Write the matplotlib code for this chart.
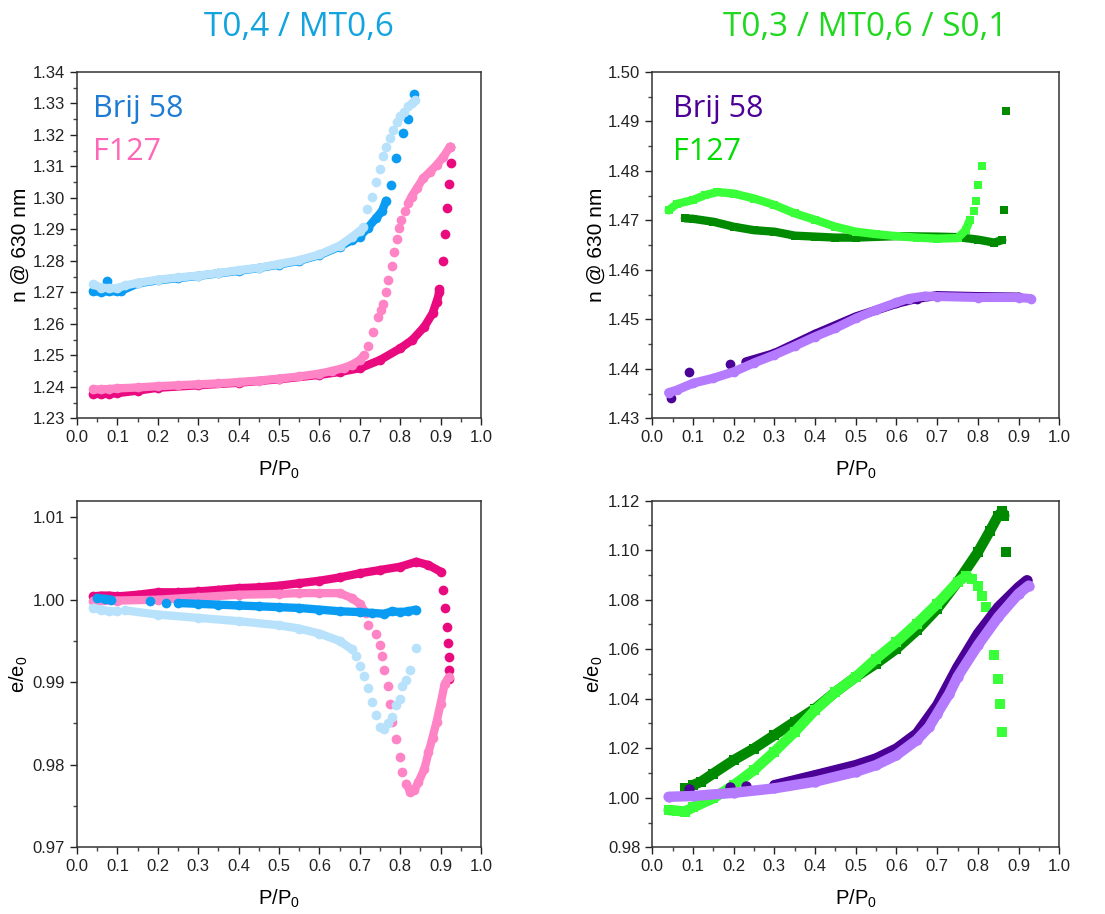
import numpy as np
import matplotlib
matplotlib.use("Agg")
import matplotlib.pyplot as plt
from matplotlib.ticker import MultipleLocator, FormatStrFormatter

nan = np.nan

# ---------------- n @ 630 nm, T0,4 / MT0,6 ----------------
n1_b58_dk_x = [0.04, 0.06, 0.08, 0.10, 0.11, 0.15, 0.2, 0.25, 0.3, 0.35, 0.4, 0.45, 0.5, 0.55, 0.6, 0.65, 0.68, 0.70, 0.72, 0.74, 0.755, 0.765]
n1_b58_dk_y = [1.2703, 1.2702, 1.2703, 1.2703, 1.2705, 1.2728, 1.2738, 1.2745, 1.2752, 1.2760, 1.2768, 1.2777, 1.2788, 1.2800, 1.2818, 1.2845, 1.2865, 1.2877, 1.2905, 1.2935, 1.2958, 1.2991]
n1_b58_dk_px = [0.075, 0.776, 0.789, 0.806, 0.820, 0.833]
n1_b58_dk_py = [1.2735, 1.3041, 1.3125, 1.3207, 1.3250, 1.3329]

n1_b58_lt_x = [0.04, 0.06, 0.08, 0.10, 0.12, 0.15, 0.2, 0.25, 0.3, 0.35, 0.4, 0.45, 0.5, 0.55, 0.6, 0.65, 0.68, 0.70]
n1_b58_lt_y = [1.2725, 1.2715, 1.2713, 1.2713, 1.2722, 1.2730, 1.2740, 1.2747, 1.2753, 1.2761, 1.2770, 1.2778, 1.2790, 1.2802, 1.2820, 1.2848, 1.2875, 1.2895]
n1_b58_lt_px = [0.707, 0.719, 0.731, 0.740, 0.750, 0.758, 0.766, 0.775, 0.783, 0.791, 0.800, 0.810, 0.820, 0.828, 0.836]
n1_b58_lt_py = [1.2908, 1.2963, 1.3004, 1.3050, 1.3090, 1.3133, 1.3162, 1.3189, 1.3215, 1.3239, 1.3258, 1.3273, 1.3290, 1.3300, 1.3310]

n1_f127_dk_x = [0.04, 0.06, 0.08, 0.10, 0.15, 0.2, 0.3, 0.4, 0.5, 0.6, 0.65, 0.7, 0.75, 0.8, 0.83, 0.86, 0.88, 0.89, 0.897]
n1_f127_dk_y = [1.2378, 1.2377, 1.2378, 1.2380, 1.2388, 1.2397, 1.2405, 1.2413, 1.2424, 1.2438, 1.2447, 1.2459, 1.2485, 1.2522, 1.2549, 1.2591, 1.2633, 1.2670, 1.2700]
n1_f127_dk_px = [0.897, 0.905, 0.912, 0.915, 0.921, 0.925, 0.923]
n1_f127_dk_py = [1.2710, 1.2798, 1.2886, 1.2969, 1.3043, 1.3110, 1.3162]

n1_f127_lt_x = [0.04, 0.06, 0.08, 0.10, 0.15, 0.2, 0.25, 0.3, 0.35, 0.4, 0.45, 0.5, 0.55, 0.6, 0.63, 0.66, 0.68, 0.70, 0.71,
                nan, 0.82, 0.828, 0.841, 0.857, 0.874, 0.89, 0.907, 0.923]
n1_f127_lt_y = [1.2392, 1.2392, 1.2393, 1.2395, 1.2398, 1.2402, 1.2405, 1.2408, 1.2411, 1.2415, 1.2420, 1.2426, 1.2433, 1.2442, 1.2450, 1.2460, 1.2470, 1.2485, 1.2500,
                nan, 1.2982, 1.3004, 1.3030, 1.3062, 1.3083, 1.3104, 1.3130, 1.3162]
n1_f127_lt_px = [0.721, 0.733, 0.746, 0.752, 0.758, 0.764, 0.770, 0.779, 0.784, 0.791, 0.798, 0.803, 0.812]
n1_f127_lt_py = [1.2528, 1.2575, 1.2623, 1.2645, 1.2663, 1.2702, 1.2739, 1.2784, 1.2829, 1.2868, 1.2903, 1.2930, 1.2958]

# ---------------- n @ 630 nm, T0,3 / MT0,6 / S0,1 ----------------
n2_b58_dk_x = [0.23, 0.3, 0.4, 0.5, 0.6, 0.65, 0.7, 0.8, 0.9]
n2_b58_dk_y = [1.4414, 1.4431, 1.4470, 1.4505, 1.4532, 1.4542, 1.4548, 1.4546, 1.4545]
n2_b58_dk_px = [0.045, 0.09, 0.19]
n2_b58_dk_py = [1.4342, 1.4394, 1.4409]

n2_b58_lt_x = [0.04, 0.06, 0.1, 0.15, 0.2, 0.25, 0.3, 0.35, 0.4, 0.45, 0.5, 0.55, 0.6, 0.63, 0.67, 0.7, 0.8, 0.9, 0.93]
n2_b58_lt_y = [1.4352, 1.4357, 1.4371, 1.4381, 1.4394, 1.4412, 1.4428, 1.4446, 1.4465, 1.4482, 1.4502, 1.4519, 1.4534, 1.4542, 1.4547, 1.4546, 1.4544, 1.4544, 1.4542]
n2_b58_lt_px = []
n2_b58_lt_py = []

n2_f127_dk_x = [0.08, 0.1, 0.15, 0.2, 0.25, 0.3, 0.35, 0.4, 0.45, 0.5, 0.6, 0.7, 0.75, 0.8, 0.84, 0.86]
n2_f127_dk_y = [1.4704, 1.4703, 1.4697, 1.4687, 1.4680, 1.4677, 1.4669, 1.4667, 1.4665, 1.4665, 1.4668, 1.4667, 1.4666, 1.4661, 1.4655, 1.4660]
n2_f127_dk_px = [0.865, 0.87]
n2_f127_dk_py = [1.4721, 1.4921]

n2_f127_lt_x = [0.04, 0.06, 0.1, 0.13, 0.16, 0.2, 0.25, 0.3, 0.35, 0.4, 0.45, 0.5, 0.55, 0.6, 0.65, 0.7, 0.75, 0.77, 0.78]
n2_f127_lt_y = [1.4720, 1.4733, 1.4741, 1.4751, 1.4757, 1.4754, 1.4744, 1.4731, 1.4714, 1.4701, 1.4687, 1.4677, 1.4672, 1.4668, 1.4665, 1.4663, 1.4664, 1.4680, 1.4700]
n2_f127_lt_px = [0.79, 0.795, 0.80, 0.81]
n2_f127_lt_py = [1.4719, 1.4739, 1.4771, 1.4810]

# ---------------- e/e0, T0,4 / MT0,6 ----------------
e1_f127_dk_x = [0.04, 0.06, 0.08, 0.1, 0.15, 0.2, 0.25, 0.3, 0.35, 0.4, 0.45, 0.5, 0.55, 0.6, 0.65, 0.7, 0.75, 0.8, 0.84, 0.87, 0.9]
e1_f127_dk_y = [1.0004, 1.0005, 1.0005, 1.0004, 1.0006, 1.0009, 1.0009, 1.0010, 1.0012, 1.0014, 1.0015, 1.0017, 1.0020, 1.0023, 1.0027, 1.0032, 1.0036, 1.0040, 1.0046, 1.0042, 1.0034]
e1_f127_dk_px = [0.905, 0.91, 0.915, 0.918, 0.92, 0.922, 0.922]
e1_f127_dk_py = [1.0012, 0.9990, 0.9967, 0.9948, 0.9931, 0.9915, 0.9904]

e1_f127_lt_x = [0.04, 0.1, 0.2, 0.3, 0.4, 0.5, 0.55, 0.6, 0.65, 0.68, 0.70, 0.715,
                nan, 0.815, 0.825, 0.835, 0.845, 0.86, 0.87, 0.88, 0.89, 0.9, 0.91, 0.92]
e1_f127_lt_y = [0.9998, 0.9999, 1.0000, 1.0003, 1.0006, 1.0007, 1.0008, 1.0008, 1.0008, 1.0002, 0.9995, 0.9984,
                nan, 0.9777, 0.9767, 0.9769, 0.9779, 0.9795, 0.9815, 0.9833, 0.9852, 0.9874, 0.9898, 0.9906]
e1_f127_lt_px = [0.72, 0.74, 0.75, 0.755, 0.76, 0.77, 0.775, 0.78, 0.79, 0.80, 0.805]
e1_f127_lt_py = [0.9969, 0.9958, 0.9945, 0.9932, 0.9915, 0.9895, 0.9874, 0.9852, 0.9831, 0.9809, 0.9791]

e1_b58_dk_x = [0.05, 0.07, 0.085, nan, 0.25, 0.3, 0.35, 0.4, 0.45, 0.5, 0.55, 0.6, 0.65, 0.7, 0.73, 0.76, 0.78, 0.8, 0.82, 0.838]
e1_b58_dk_y = [1.0002, 1.0001, 1.0000, nan, 0.9996, 0.9995, 0.9994, 0.9993, 0.9992, 0.9991, 0.9990, 0.9988, 0.9986, 0.9985, 0.9984, 0.9983, 0.9986, 0.9985, 0.9986, 0.9988]
e1_b58_dk_px = [0.18, 0.22]
e1_b58_dk_py = [0.9998, 0.9996]

e1_b58_lt_x = [0.04, 0.06, 0.08, 0.1, nan, 0.12, 0.2, 0.3, 0.4, 0.5, 0.55, 0.6, 0.65, 0.68]
e1_b58_lt_y = [0.9990, 0.9988, 0.9986, 0.9986, nan, 0.9987, 0.9982, 0.9978, 0.9974, 0.9969, 0.9965, 0.9959, 0.9950, 0.9940]
e1_b58_lt_px = [0.69, 0.70, 0.71, 0.72, 0.73, 0.74, 0.75, 0.76, 0.77, 0.78, 0.79, 0.80, 0.805, 0.815, 0.825, 0.838]
e1_b58_lt_py = [0.9932, 0.9920, 0.9908, 0.9893, 0.9876, 0.9860, 0.9846, 0.9843, 0.9850, 0.9858, 0.9872, 0.9880, 0.9895, 0.9903, 0.9915, 0.9942]

# ---------------- e/e0, T0,3 / MT0,6 / S0,1 ----------------
e2_f127_dk_x = [0.1, 0.12, 0.15, 0.2, 0.25, 0.3, 0.35, 0.4, 0.45, 0.5, 0.55, 0.6, 0.65, 0.7, 0.75, 0.8, 0.83, 0.85, 0.86, 0.865]
e2_f127_dk_y = [1.0051, 1.0065, 1.0098, 1.0152, 1.0199, 1.0253, 1.0307, 1.0360, 1.0427, 1.0488, 1.0542, 1.0602, 1.0676, 1.0763, 1.0871, 1.0992, 1.1079, 1.1140, 1.1157, 1.1140]
e2_f127_dk_px = [0.08, 0.87]
e2_f127_dk_py = [1.0038, 1.0994]

e2_f127_lt_x = [0.04, 0.06, 0.08, 0.1, 0.15, 0.2, 0.25, 0.3, 0.35, 0.4, 0.45, 0.5, 0.55, 0.6, 0.65, 0.7, 0.75, 0.77, 0.785]
e2_f127_lt_y = [0.9950, 0.9948, 0.9944, 0.9961, 0.9998, 1.0051, 1.0112, 1.0186, 1.0266, 1.0354, 1.0427, 1.0488, 1.0562, 1.0629, 1.0703, 1.0783, 1.0871, 1.0894, 1.0884]
e2_f127_lt_px = [0.80, 0.81, 0.82, 0.835, 0.84, 0.85, 0.855, 0.86]
e2_f127_lt_py = [1.0857, 1.0813, 1.0770, 1.0716, 1.0575, 1.0479, 1.0380, 1.0266]

e2_b58_dk_x = [0.3, 0.4, 0.5, 0.55, 0.6, 0.65, 0.7, 0.75, 0.8, 0.85, 0.9, 0.92]
e2_b58_dk_y = [1.0051, 1.0091, 1.0132, 1.0159, 1.0199, 1.0260, 1.0374, 1.0528, 1.0663, 1.0770, 1.0851, 1.0878]
e2_b58_dk_px = [0.09, 0.19, 0.23]
e2_b58_dk_py = [1.0034, 1.0045, 1.0047]

e2_b58_lt_x = [0.04, 0.1, 0.2, 0.3, 0.4, 0.5, 0.55, 0.6, 0.65, 0.68, 0.7, 0.73, 0.75, 0.8, 0.85, 0.9, 0.925]
e2_b58_lt_y = [1.0004, 1.0007, 1.0020, 1.0038, 1.0065, 1.0105, 1.0132, 1.0172, 1.0233, 1.0286, 1.0340, 1.0421, 1.0488, 1.0616, 1.0730, 1.0824, 1.0857]
e2_b58_lt_px = []
e2_b58_lt_py = []

titles = ["T0,4 / MT0,6", "T0,3 / MT0,6 / S0,1"]
title_colors = ["#13A3DF", "#1FD81F"]

# colours
blue_dk, blue_lt = "#0A9CF2", "#B8E2FB"
pink_dk, pink_lt = "#EA0A80", "#FF84C6"
purp_dk, purp_lt = "#4B0096", "#B57BFF"
green_dk, green_lt = "#008A00", "#38FF38"

plt.rcParams["font.family"] = ["Liberation Sans", "DejaVu Sans"]
plt.rcParams["mathtext.default"] = "regular"


def draw(ax, x, y, px, py, color, marker, lw, ms):
    # dense part as a thick band, sparse part as single markers
    ax.plot(x, y, "-", color=color, lw=lw, marker=marker, ms=ms,
            solid_capstyle="round", solid_joinstyle="round", mew=0)
    if len(px):
        ax.plot(px, py, ls="none", color=color, marker=marker, ms=ms, mew=0)


def style(ax, ylim, ymaj, ymin, ylabel, ysize):
    ax.set_xlim(0, 1.0)
    ax.set_ylim(*ylim)
    ax.xaxis.set_major_locator(MultipleLocator(0.1))
    ax.xaxis.set_minor_locator(MultipleLocator(0.05))
    ax.xaxis.set_major_formatter(FormatStrFormatter("%.1f"))
    ax.yaxis.set_major_locator(MultipleLocator(ymaj))
    ax.yaxis.set_minor_locator(MultipleLocator(ymin))
    ax.yaxis.set_major_formatter(FormatStrFormatter("%.2f"))
    ax.tick_params(which="major", direction="out", length=5, width=1, labelsize=12, colors="#222222")
    ax.tick_params(which="minor", direction="out", length=3, width=1, colors="#444444")
    ax.tick_params(top=False, right=False)
    for s in ax.spines.values():
        s.set_linewidth(1.1)
        s.set_color("#333333")
    ax.set_xlabel("P/P$_0$", fontsize=14.5, labelpad=10)
    ax.set_ylabel(ylabel, fontsize=ysize, labelpad=2)


fig = plt.figure(figsize=(11.05, 9.14), dpi=100)
ax1 = fig.add_axes([0.0697, 0.5423, 0.3656, 0.3792])
ax2 = fig.add_axes([0.5903, 0.5423, 0.3683, 0.3792])
ax3 = fig.add_axes([0.0697, 0.0730, 0.3656, 0.3792])
ax4 = fig.add_axes([0.5903, 0.0730, 0.3683, 0.3792])

# top left
draw(ax1, n1_b58_dk_x, n1_b58_dk_y, n1_b58_dk_px, n1_b58_dk_py, blue_dk, "o", 6, 7)
draw(ax1, n1_b58_lt_x, n1_b58_lt_y, n1_b58_lt_px, n1_b58_lt_py, blue_lt, "o", 6, 7)
draw(ax1, n1_f127_dk_x, n1_f127_dk_y, n1_f127_dk_px, n1_f127_dk_py, pink_dk, "o", 6, 7)
draw(ax1, n1_f127_lt_x, n1_f127_lt_y, n1_f127_lt_px, n1_f127_lt_py, pink_lt, "o", 6, 7)
style(ax1, (1.23, 1.34), 0.01, 0.005, "n @ 630 nm", 15)

# top right
draw(ax2, n2_b58_dk_x, n2_b58_dk_y, n2_b58_dk_px, n2_b58_dk_py, purp_dk, "o", 6.5, 7)
draw(ax2, n2_b58_lt_x, n2_b58_lt_y, n2_b58_lt_px, n2_b58_lt_py, purp_lt, "o", 6.5, 7)
draw(ax2, n2_f127_dk_x, n2_f127_dk_y, n2_f127_dk_px, n2_f127_dk_py, green_dk, "s", 6, 6)
draw(ax2, n2_f127_lt_x, n2_f127_lt_y, n2_f127_lt_px, n2_f127_lt_py, green_lt, "s", 6, 6)
style(ax2, (1.43, 1.50), 0.01, 0.005, "n @ 630 nm", 15)

# bottom left
draw(ax3, e1_f127_dk_x, e1_f127_dk_y, e1_f127_dk_px, e1_f127_dk_py, pink_dk, "o", 6, 7)
draw(ax3, e1_f127_lt_x, e1_f127_lt_y, e1_f127_lt_px, e1_f127_lt_py, pink_lt, "o", 6, 7)
draw(ax3, e1_b58_dk_x, e1_b58_dk_y, e1_b58_dk_px, e1_b58_dk_py, blue_dk, "o", 6, 7)
draw(ax3, e1_b58_lt_x, e1_b58_lt_y, e1_b58_lt_px, e1_b58_lt_py, blue_lt, "o", 6, 7)
style(ax3, (0.97, 1.012), 0.01, 0.005, "e/e$_0$", 14.5)

# bottom right
draw(ax4, e2_f127_dk_x, e2_f127_dk_y, e2_f127_dk_px, e2_f127_dk_py, green_dk, "s", 7.5, 6.5)
draw(ax4, e2_f127_lt_x, e2_f127_lt_y, e2_f127_lt_px, e2_f127_lt_py, green_lt, "s", 7.5, 6.5)
draw(ax4, e2_b58_dk_x, e2_b58_dk_y, e2_b58_dk_px, e2_b58_dk_py, purp_dk, "o", 7.5, 7.5)
draw(ax4, e2_b58_lt_x, e2_b58_lt_y, e2_b58_lt_px, e2_b58_lt_py, purp_lt, "o", 7.5, 7.5)
style(ax4, (0.98, 1.12), 0.02, 0.01, "e/e$_0$", 14.5)

# in-plot labels
lab_font = dict(family=["Open Sans", "DejaVu Sans"], fontsize=22)
ax1.text(0.04, 0.87, "Brij 58", color="#1E7BD3", transform=ax1.transAxes, **lab_font)
ax1.text(0.04, 0.745, "F127", color="#FF66B8", transform=ax1.transAxes, **lab_font)
ax2.text(0.05, 0.87, "Brij 58", color="#4B0096", transform=ax2.transAxes, **lab_font)
ax2.text(0.05, 0.745, "F127", color="#00DD00", transform=ax2.transAxes, **lab_font)

# column titles
fig.text(299 / 1105, 1 - 27 / 914, titles[0], color=title_colors[0], ha="center", va="center",
         family=["Open Sans", "DejaVu Sans"], fontsize=24)
fig.text(865 / 1105, 1 - 27 / 914, titles[1], color=title_colors[1], ha="center", va="center",
         family=["Open Sans", "DejaVu Sans"], fontsize=24)

fig.savefig("out.png", dpi=100)
